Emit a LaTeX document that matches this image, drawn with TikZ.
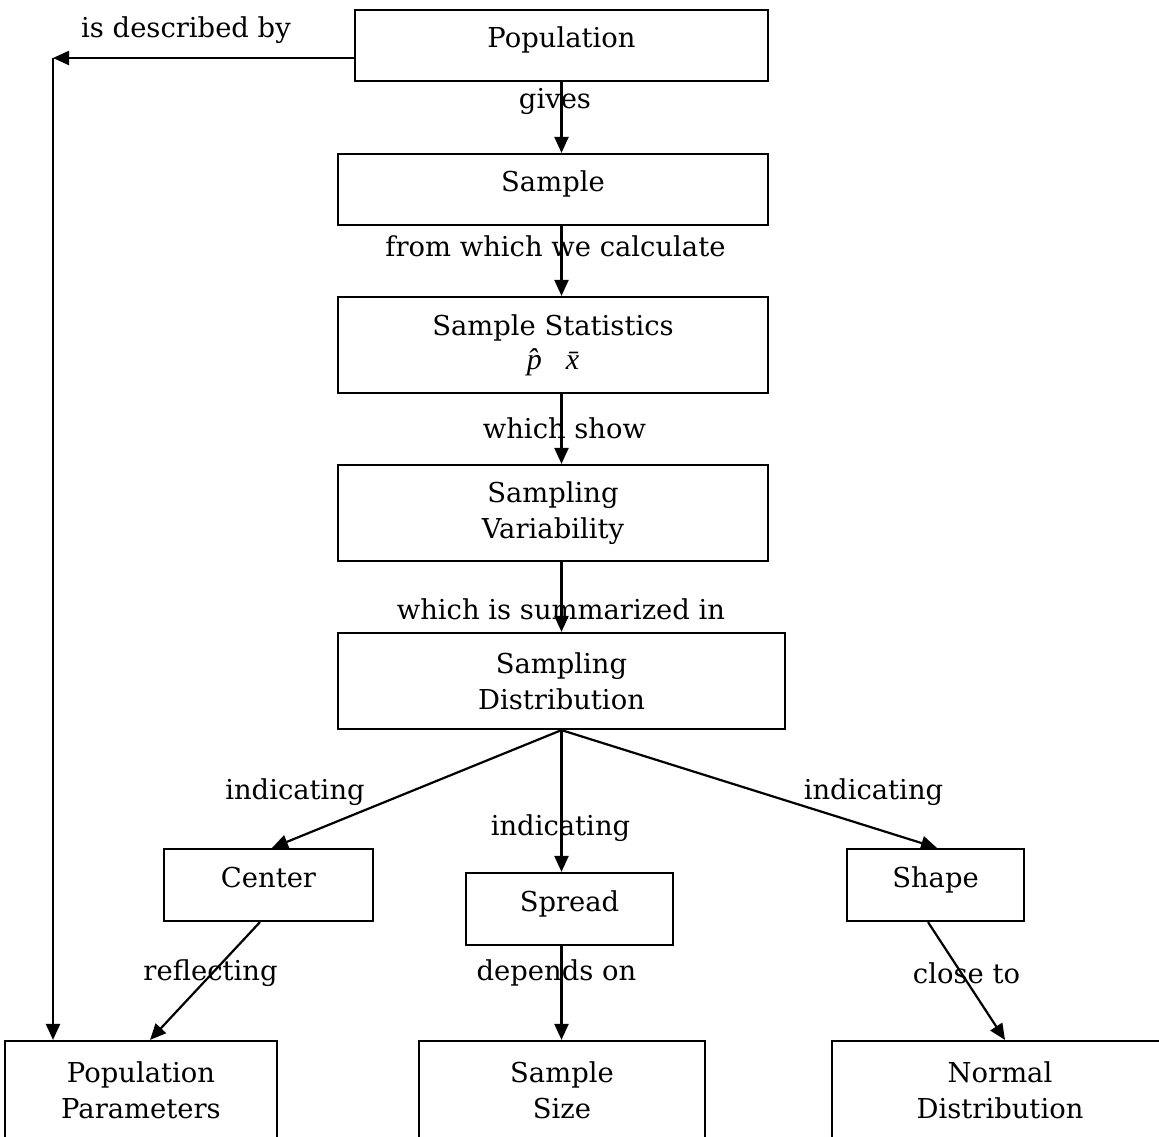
\documentclass[tikz,border=0pt]{standalone}
\usepackage{fontspec}
\setmainfont{DejaVu Serif}
\newfontfamily\timesfam{Liberation Serif}
\usetikzlibrary{arrows.meta,calc}
\begin{document}
\begin{tikzpicture}[x=1pt,y=-1pt,
  every node/.style={font=\fontsize{27.4}{36}\selectfont, inner sep=0pt},
  box/.style={draw, line width=2.2pt, align=center, minimum width=#1},
  oneline/.style={text height=20pt, text depth=16pt},
  lbl/.style={},
  arr/.style={line width=2.2pt, -{Triangle[length=16pt,width=14pt]}}]
\clip (0,0) rectangle (1159,1136);
\fill[white] (0,0) rectangle (1159,1136);
% boxes
\node[box=413, minimum height=71, oneline] (pop) at (561.5,45.5) {Population};
\node[box=430, minimum height=71, oneline] (samp) at (553,189.5) {Sample};
\node[box=430, minimum height=96] (stat) at (553,345) {Sample Statistics\\[-2pt]{\timesfam\itshape\fontsize{30}{36}\selectfont p̂\hspace{24pt}x̄}};
\node[box=430, minimum height=96] (var) at (553,513) {Sampling\\Variability};
\node[box=447, minimum height=96] (dist) at (561.5,681) {Sampling\\Distribution};
\node[box=209, minimum height=72, oneline] (cen) at (268.5,885) {Center};
\node[box=207, minimum height=72, oneline] (spread) at (569.5,909) {Spread};
\node[box=177, minimum height=72, oneline] (shape) at (935.5,885) {Shape};
\node[box=272, minimum height=98] (pp) at (141,1090) {Population\\Parameters};
\node[box=286, minimum height=98] (ss) at (562,1090) {Sample\\Size};
\node[box=336, minimum height=98] (nd) at (1000,1090) {Normal\\Distribution};
% connectors
\coordinate (corner) at (53,58);
\draw[arr] ([yshift=-12.5pt]pop.west) -- (corner);
\draw[arr] (corner) -- (corner |- pp.north);
\draw[arr] (pop.south) -- (pop.south |- samp.north);
\draw[arr] (pop.south |- samp.south) -- (pop.south |- stat.north);
\draw[arr] (pop.south |- stat.south) -- (pop.south |- var.north);
\draw[arr] (pop.south |- var.south) -- (pop.south |- dist.north);
\draw[arr] (dist.south) -- ([xshift=3.5pt]cen.north);
\draw[arr] (dist.south) -- (dist.south |- spread.north);
\draw[arr] (dist.south) -- ([xshift=1.5pt]shape.north);
\draw[arr] ([xshift=-8.5pt]cen.south) -- ([xshift=9pt]pp.north);
\draw[arr] (dist.south |- spread.south) -- (dist.south |- ss.north);
\draw[arr] ([xshift=-7.5pt]shape.south) -- ([xshift=5pt]nd.north);
% labels
\node[lbl] (l1) at (186,30) {is described by};
\node[lbl] (l2) at (555,101) {gives};
\node[lbl] (l3) at (555.5,246) {from which we calculate};
\node[lbl] (l4) at (564.5,428) {which show};
\node[lbl] (l5) at (561,609) {which is summarized in};
\node[lbl] (l6) at (295,792) {indicating};
\node[lbl] (l7) at (560.5,828) {indicating};
\node[lbl] (l8) at (873.5,792) {indicating};
\node[lbl] (l9) at (210.5,973) {reflecting};
\node[lbl] (l10) at (556.5,973) {depends on};
\node[lbl] (l11) at (966.5,973) {close to};
\end{tikzpicture}
\end{document}
